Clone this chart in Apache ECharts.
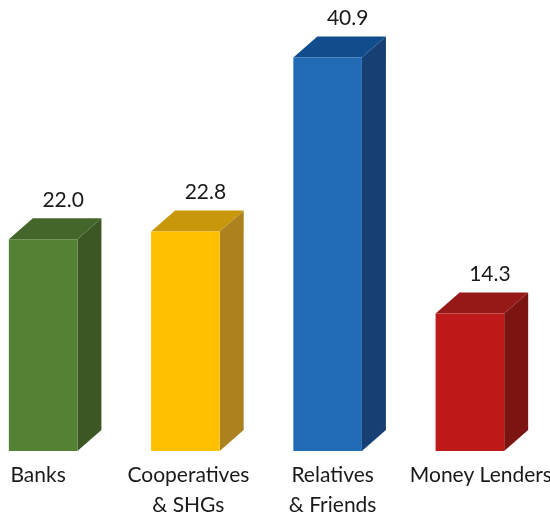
<!DOCTYPE html>
<html>
<head>
<meta charset="utf-8">
<script src="https://cdn.jsdelivr.net/npm/echarts@6/dist/echarts.min.js"></script>
<style>
  html, body { margin: 0; padding: 0; background: #fff; }
  #chart { width: 550px; height: 513px; }
</style>
</head>
<body>
<div id="chart"></div>
<script>
// Sources of borrowing (share, %)
const categories = ['Banks', 'Cooperatives\n& SHGs', 'Relatives\n& Friends', 'Money Lenders'];
const values = [22.0, 22.8, 40.9, 14.3];

// Face colours for each box: front, right side, top
const frontColors = ['#548235', '#FFC000', '#1F6BB5', '#BE1A1A'];
const sideColors  = ['#3C5624', '#AD821E', '#173F74', '#7C1511'];
const topColors   = ['#44662B', '#C8970C', '#114D8D', '#961817'];

// Small horizontal nudges for the category captions (px, negative = left)
const labelShift = [-5, 3, 5, 11];

const DEPTH_X = 24, DEPTH_Y = 21;
const FONT = 'Lato';

const chart = echarts.init(document.getElementById('chart'), null, { renderer: 'canvas' });

function renderBox(params, api) {
  const i = api.value(0);
  const v = api.value(1);
  const base = api.coord([i, 0]);
  const top = api.coord([i, v]);
  const band = api.size([1, 0])[0];
  const w = band * 0.482;
  const x0 = base[0] - w / 2;
  const x1 = x0 + w;
  const yb = base[1];
  const yt = top[1];
  return {
    type: 'group',
    children: [
      {
        type: 'polygon',
        shape: { points: [[x1, yt], [x1 + DEPTH_X, yt - DEPTH_Y], [x1 + DEPTH_X, yb - DEPTH_Y], [x1, yb]] },
        style: { fill: sideColors[i] }
      },
      {
        type: 'polygon',
        shape: { points: [[x0, yt], [x0 + DEPTH_X, yt - DEPTH_Y], [x1 + DEPTH_X, yt - DEPTH_Y], [x1, yt]] },
        style: { fill: topColors[i] }
      },
      {
        type: 'rect',
        shape: { x: x0, y: yt, width: w, height: yb - yt },
        style: { fill: frontColors[i] }
      },
      {
        type: 'text',
        style: {
          x: x0 + w / 2 + DEPTH_X / 2 + 8,
          y: yt - DEPTH_Y - 8,
          text: v.toFixed(1),
          align: 'center',
          verticalAlign: 'bottom',
          fill: '#1a1a1a',
          font: '21px "' + FONT + '", sans-serif'
        }
      }
    ]
  };
}

const rich = {};
labelShift.forEach(function (s, k) {
  rich['c' + k] = {
    fontFamily: FONT,
    fontSize: 21,
    lineHeight: 30,
    color: '#1a1a1a',
    padding: s < 0 ? [0, -2 * s, 0, 0] : [0, 0, 0, 2 * s]
  };
});

chart.setOption({
  animation: false,
  grid: { left: -28, right: 9, top: 18, bottom: 62, containLabel: false, outerBoundsMode: 'none' },
  xAxis: {
    type: 'category',
    data: categories,
    axisLine: { show: false },
    axisTick: { show: false },
    splitLine: { show: false },
    axisLabel: {
      interval: 0,
      margin: 9,
      formatter: function (val, idx) {
        return val.split('\n').map(function (line) { return '{c' + idx + '|' + line + '}'; }).join('\n');
      },
      rich: rich
    }
  },
  yAxis: {
    type: 'value',
    min: 0,
    max: 45,
    show: false
  },
  series: [{
    type: 'custom',
    renderItem: renderBox,
    data: values.map(function (v, i) { return [i, v]; }),
    clip: false
  }]
});
</script>
</body>
</html>
